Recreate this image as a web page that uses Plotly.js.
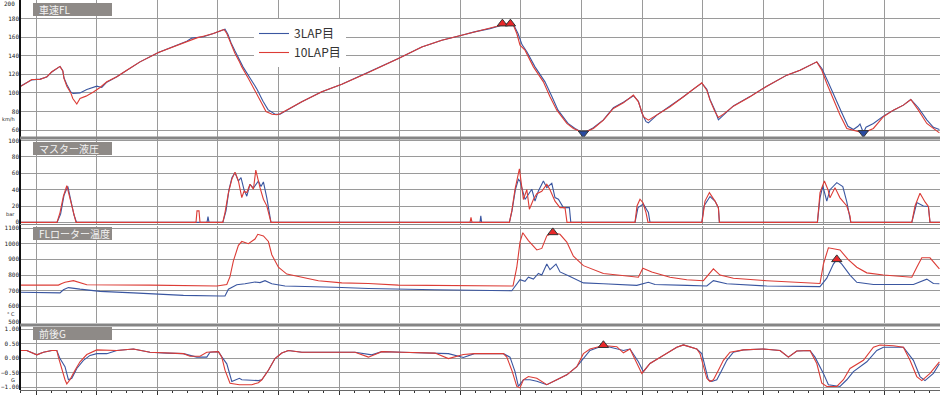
<!DOCTYPE html>
<html><head><meta charset="utf-8">
<script src="https://cdn.plot.ly/plotly-3.0.1.min.js"></script>
<style>html,body{margin:0;padding:0;background:#fff}#chart{width:940px;height:398px}</style>
</head><body><div id="chart"></div>
<script>
const lapNames = ["3LAP目", "10LAP目"];
const panelTitles = ["車速FL", "マスター液圧", "FLローター温度", "前後G"];
const unitLabels = ["km/h", "bar", "° C", "G"];

// 車速FL (km/h) vs distance (m)
const speedDist3 = [4,59,100,134,159,192,200,214,220,234,254,265,300,334,384,409,434,484,534,600,692,767,834,859,917,967,1009,1025,1040,1055,1075,1097,1115,1150,1185,1215,1240,1275,1300,1409,1509,1609,1742,1892,2009,2109,2209,2272,2350,2425,2465,2490,2510,2535,2575,2625,2660,2690,2740,2775,2817,2867,2917,2967,3017,3067,3092,3110,3130,3142,3184,3250,3317,3367,3409,3434,3450,3475,3492,3517,3567,3650,3734,3834,3900,3984,4010,4040,4075,4110,4140,4167,4190,4200,4217,4230,4267,4317,4367,4417,4454,4492,4534,4567,4597];
const speed3 = [107.5,114,114.8,117,122.5,128,128.5,124,116,109,101,99.5,100,103.7,107.2,105.8,111.5,117.3,124.4,133.4,143.4,149.5,155.5,159,160.5,164,167.5,168.5,163,154,145,136,128,116,104,91,82,77,77,90.4,101.1,109.4,122,137,149.5,156.7,162.1,165.7,169.2,173.9,174.5,164,152,144,128,111.9,95.8,81.4,67.1,61.7,56.5,62.5,71,84,90,97,91,78,69,67.8,76,85.5,95.8,104,110.5,104,93,81,71,76,86,96,107.2,119.1,124.4,133.4,126,112,94,78,64,60.5,64,66.5,57,63,67,75,81.4,86.8,92.9,84,71,63,60.6];
const speedDist10 = [4,59,100,134,159,192,200,214,220,234,254,264,284,300,330,367,400,434,484,534,600,692,767,834,884,917,967,1009,1020,1034,1050,1067,1075,1097,1109,1142,1175,1209,1230,1260,1285,1300,1409,1509,1609,1742,1892,2009,2109,2209,2272,2350,2425,2464,2484,2500,2525,2567,2617,2650,2684,2734,2767,2817,2867,2917,2967,3017,3067,3092,3117,3142,3184,3250,3317,3367,3409,3434,3450,3475,3492,3517,3567,3650,3734,3834,3900,3984,4009,4034,4067,4100,4134,4167,4217,4267,4317,4367,4417,4454,4492,4534,4567,4597];
const speed10 = [107,114.4,114.4,117.3,122.7,128,128.5,123.7,115.5,107.2,100,94,88,94,96.5,101,105.8,111.9,117.3,124.4,133.4,143.4,149.5,154.9,159.2,161,163.9,167.5,168.2,163.9,154.9,146,142.4,133.4,128,115.5,103,88.6,80,77,76.5,77.5,90.4,101.1,109.4,121.9,137,149.5,156.7,162.1,165.7,169.2,173.9,174.5,163.9,151.3,146,128,111.9,95.8,81.4,67.1,61.7,57,61.7,70.7,83.2,89.3,97.6,90.4,74.3,70.7,76.1,85,95.8,103.7,110.8,102.9,92.2,79.6,73.5,77.1,85.7,95.8,107.2,119.1,124.4,133.4,124.4,110.1,92.2,76.1,61.7,59.9,57,61.7,74.3,81.4,86.8,92.9,81.4,67.1,61.7,57];

// マスター液圧 (bar)
const presDist3 = [0,185,203,220,239,255,270,283,935,940,945,1014,1030,1045,1060,1075,1092,1105,1120,1134,1150,1167,1192,1205,1217,1234,1245,1255,2300,2304,2308,2447,2460,2477,2492,2500,2525,2559,2575,2592,2617,2634,2659,2675,2692,2717,2747,2754,3075,3090,3117,3142,3150,3409,3420,3450,3475,3492,3497,3987,4000,4014,4034,4050,4084,4114,4134,4154,4459,4484,4517,4542,4550,4600];
const pres3 = [0,0,10,33,44,27,9,0,0,7,0,0,14,40,55,60.7,50.6,54.7,40,32,46.6,42,50.6,44,49.4,30,16,0,0,8,0,0,14,40,52.6,50.6,28,40.5,26,38.5,50.6,42.5,47.8,30.4,28.3,18,18,0,0,18,22.3,12,0,0,20,31.6,26,18,0,0,30,44.5,26,40,48.6,43.7,25,0,0,24.3,20,19.4,0,0];
const presDist10 = [0,185,200,217,234,250,267,280,880,885,895,900,1014,1025,1042,1059,1075,1092,1109,1120,1134,1150,1167,1179,1200,1217,1234,1245,1255,2250,2255,2260,2447,2459,2475,2497,2517,2534,2547,2567,2584,2609,2634,2650,2675,2700,2725,2735,3075,3085,3100,3115,3130,3140,3410,3425,3447,3475,3492,3497,3987,4000,4022,4040,4050,4075,4100,4134,4150,4154,4459,4475,4500,4525,4542,4550,4600];
const pres10 = [0,0,12,32,45,28,10,0,0,14,14,0,0,12,36,52.6,61.5,50.6,30.4,38,36.4,46.6,40.5,64,42.5,28.3,20.2,8,0,0,6,0,0,14,40.5,65.6,28,40,16,28,35,38,46.6,40,26,18,18,0,0,20,28.3,24,12,0,0,26,36.4,26,18,0,0,36.4,50.6,40,30,42.5,30,20,8,0,0,20,35.6,25,19.4,0,0];

// FLローター温度 (°C)
const tempDist3 = [4,200,217,242,300,400,567,700,817,1000,1025,1042,1084,1125,1175,1200,1225,1259,1325,1575,1742,2075,2272,2459,2500,2525,2542,2567,2592,2609,2634,2650,2680,2700,2750,2817,2917,3084,3142,3175,3334,3434,3467,3534,3734,4000,4034,4067,4084,4109,4150,4184,4267,4467,4534,4567,4597];
const temp3 = [690,686,706,720,710,696,686,676,670,666,666,710,738,744,756,752,764,744,730,722,714,706,702,700,770,760,786,774,810,800,870,834,870,820,790,750,744,734,754,740,734,730,764,744,730,726,780,870,900,870,800,754,740,740,774,746,744];
const tempDist10 = [4,192,209,225,267,334,650,900,984,1034,1050,1067,1084,1092,1109,1142,1175,1189,1217,1242,1259,1292,1334,1409,1492,1609,1742,1892,2075,2272,2465,2484,2500,2514,2542,2584,2609,2634,2664,2700,2734,2767,2817,2917,3017,3092,3114,3159,3250,3334,3417,3467,3500,3567,3734,3900,4000,4017,4042,4100,4140,4184,4234,4317,4400,4459,4484,4509,4550,4597];
const temp10 = [736,736,746,754,764,738,736,734,730,740,790,890,960,990,1014,1000,1030,1060,1050,1014,930,850,806,786,764,750,746,736,734,730,730,850,1010,1070,1020,960,970,1050,1070,1060,1010,920,860,810,794,786,844,820,786,770,764,840,800,780,764,754,746,870,974,960,900,850,814,800,790,786,850,910,910,840];

// 前後G
const gDist3 = [4,34,84,117,159,184,200,225,242,259,284,317,350,384,434,467,484,567,650,734,817,884,934,950,992,1010,1034,1059,1097,1109,1192,1209,1242,1275,1309,1342,1409,1575,1675,1759,1809,1909,2075,2142,2217,2272,2417,2450,2475,2492,2517,2550,2584,2634,2684,2734,2784,2817,2850,2917,2984,3017,3050,3092,3117,3150,3217,3284,3317,3384,3409,3425,3442,3459,3484,3509,3534,3567,3617,3717,3800,3842,3884,3950,3975,4017,4042,4100,4134,4167,4234,4284,4317,4417,4467,4500,4525,4567,4597];
const g3 = [0.26,0.26,0.11,0.2,0.26,0.26,-0.02,-0.3,-0.75,-0.7,-0.36,-0.08,0.09,0.15,0.15,0.22,0.26,0.31,0.2,0.17,0.15,0.03,0.03,0.2,0.22,0.03,-0.2,-0.81,-0.7,-0.75,-0.78,-0.75,-0.42,-0.02,0.17,0.26,0.2,0.2,0.2,0.11,0.22,0.2,0.17,0.15,0.02,0.15,0.15,0.03,-0.47,-0.98,-0.75,-0.75,-0.8,-0.92,-0.75,-0.58,-0.3,-0.02,0.26,0.43,0.31,0.26,0.31,-0.13,-0.47,-0.19,0.09,0.37,0.45,0.31,0.15,-0.3,-0.75,-0.81,-0.75,-0.42,-0.08,0.2,0.28,0.31,0.26,0.03,0.24,0.26,0.03,-0.53,-0.92,-0.98,-0.75,-0.47,-0.13,0.26,0.37,0.37,-0.08,-0.64,-0.78,-0.53,-0.2];
const gDist10 = [4,34,84,117,159,184,192,209,225,234,250,275,300,334,384,484,567,650,734,817,850,900,934,992,1009,1025,1050,1097,1159,1192,1209,1242,1275,1309,1342,1409,1575,1675,1742,1809,1909,2075,2142,2217,2272,2417,2434,2459,2484,2500,2517,2542,2584,2634,2684,2734,2784,2817,2850,2917,2984,3017,3050,3084,3109,3150,3217,3284,3317,3384,3400,3417,3434,3450,3467,3492,3517,3550,3617,3717,3800,3842,3884,3950,3984,4009,4034,4084,4117,4150,4217,4267,4300,4367,4417,4450,4484,4509,4550,4597];
const g10 = [0.26,0.26,0.11,0.2,0.26,0.26,0.03,-0.42,-0.75,-0.89,-0.75,-0.42,-0.13,0.12,0.28,0.26,0.31,0.2,0.17,0.15,0.06,0.06,0.2,0.22,0.03,-0.42,-0.87,-0.92,-0.92,-0.85,-0.75,-0.42,-0.02,0.17,0.26,0.2,0.2,0.2,0.03,0.22,0.2,0.17,-0.02,0.12,0.15,0.15,0.03,-0.42,-0.98,-1.03,-0.75,-0.64,-0.7,-0.92,-0.75,-0.58,-0.3,0.15,0.31,0.43,0.39,0.18,0.31,-0.19,-0.53,-0.19,0.09,0.37,0.45,0.31,0.15,-0.3,-0.7,-0.81,-0.75,-0.42,-0.08,0.2,0.28,0.31,0.26,0.03,0.24,0.26,-0.19,-0.87,-0.98,-0.98,-0.75,-0.36,-0.08,0.37,0.45,0.42,0.37,-0.08,-0.64,-0.78,-0.53,-0.13];

// peak / minimum markers
const speedMaxDist = [2412, 2452], speedMax = [174.5, 174.5];
const speedMinDist = [2817, 4217], speedMin = [56.5, 57];
const tempMaxDist = [2664, 4084], tempMax = [1072, 900];
const gMaxDist = [2917], gMax = [0.44];

// tick labels
const speedTicks = [60,80,100,120,140,160,180];
const presTicks = [0,20,40,60,80,100];
const tempTicks = [500,600,700,800,900,1000,1100];
const gTicks = [-1,-0.5,0,0.5,1];

const C3 = '#3a56a0', C10 = '#dc3c36';
const GRID = '#9a9a9a';
function line(x, y, ya, color, name, show) {
  return {type:'scatter', mode:'lines', x:x, y:y, yaxis:ya, name:name, showlegend:show,
          line:{color:color, width:1.1}, hoverinfo:'skip'};
}
function mk(x, y, ya, sym, fill) {
  return {type:'scatter', mode:'markers', x:x, y:y, yaxis:ya, showlegend:false, hoverinfo:'skip',
          marker:{symbol:sym, size:9, color:fill, line:{color:'#333', width:1}}};
}
const traces = [
  line(speedDist3, speed3, 'y', C3, lapNames[0], true),
  line(speedDist10, speed10, 'y', C10, lapNames[1], true),
  line(presDist3, pres3, 'y2', C3, lapNames[0], false),
  line(presDist10, pres10, 'y2', C10, lapNames[1], false),
  line(tempDist3, temp3, 'y3', C3, lapNames[0], false),
  line(tempDist10, temp10, 'y3', C10, lapNames[1], false),
  line(gDist3, g3, 'y4', C3, lapNames[0], false),
  line(gDist10, g10, 'y4', C10, lapNames[1], false),
  mk(speedMaxDist, speedMax, 'y', 'triangle-up', '#e8282a'),
  mk(speedMinDist, speedMin, 'y', 'triangle-down', '#2a4aa0'),
  mk(tempMaxDist, tempMax, 'y3', 'triangle-up', '#e8282a'),
  mk(gMaxDist, gMax, 'y4', 'triangle-up', '#e8282a')
];

const H = 390; // plot area height in px (margin t=0)
const fy = p => (H - p) / H;
const tickFont = {family:'DejaVu Sans Mono', size:6, color:'#222'};
function yax(domainPx, range, tickvals, fmt) {
  return {domain:[fy(domainPx[1]), fy(domainPx[0])], range:range, tickvals:tickvals,
          tickformat:fmt || '', showgrid:true, gridcolor:GRID, gridwidth:1, zeroline:false,
          showline:false, ticks:'', tickfont:tickFont, anchor:'x', fixedrange:true};
}
const layout = {
  width:940, height:398, margin:{l:20, r:0, t:0, b:8},
  paper_bgcolor:'#fff', plot_bgcolor:'#fff',
  font:{family:'Noto Sans CJK JP', color:'#333'},
  xaxis:{range:[0,4600], tick0:80, dtick:303, showgrid:true, gridcolor:GRID, gridwidth:1,
         showticklabels:false, zeroline:false, anchor:'y4', showline:true, linecolor:'#666', linewidth:1,
         ticks:'outside', ticklen:4, tickcolor:'#333',
         minor:{tick0:80, dtick:75.75, ticks:'outside', ticklen:2, tickcolor:'#333', showgrid:false}},
  yaxis: yax([0,137], [52.5,200], speedTicks),
  yaxis2: yax([139,224], [-2,102], presTicks),
  yaxis3: yax([226,323], [494,1113], tempTicks),
  yaxis4: yax([327,390], [-1.103,1.069], gTicks, '.2f'),
  showlegend:true,
  legend:{x:(254-20)/920, y:fy(19), xanchor:'left', yanchor:'top', bgcolor:'#fff',
          font:{size:12, color:'#333', family:'Noto Sans CJK JP'}, itemwidth:30, tracegroupgap:0},
  shapes:[], annotations:[]
};
// top tick label of the speed axis (200) sits on the upper edge
layout.annotations.push({xref:'paper', yref:'paper', x:-3/920, y:fy(4), xanchor:'right', yanchor:'middle',
  text:'200', showarrow:false, font:tickFont});
// left axis line and panel separators
layout.shapes.push({type:'line', xref:'paper', yref:'paper', x0:0, x1:0, y0:0, y1:1, line:{color:'#111', width:2}});
[138, 325].forEach(p => layout.shapes.push({type:'line', xref:'paper', yref:'paper', x0:0, x1:1, y0:fy(p), y1:fy(p), line:{color:'#858585', width:3}}));
layout.shapes.push({type:'line', xref:'paper', yref:'paper', x0:0, x1:1, y0:fy(224.5), y1:fy(224.5), line:{color:'#8a8a8a', width:1}});
// panel title boxes
const boxTops = [3, 142, 227, 327];
boxTops.forEach((t, i) => {
  layout.shapes.push({type:'rect', xref:'paper', yref:'paper', x0:(33-20)/920, x1:(112-20)/920,
    y0:fy(t+13), y1:fy(t), fillcolor:'#8e8a87', line:{width:0}});
  layout.annotations.push({xref:'paper', yref:'paper', x:(37-20)/920, y:fy(t+6.5), xanchor:'left', yanchor:'middle',
    text:panelTitles[i], showarrow:false, font:{size:10, color:'#f4f4f4', family:'Noto Sans CJK JP'}});
});
// unit labels
const unitY = [119, 214, 314, 380];
unitY.forEach((p, i) => layout.annotations.push({xref:'paper', yref:'paper', x:-3/920, y:fy(p), xanchor:'right', yanchor:'middle',
  text:unitLabels[i], showarrow:false, font:{size:5, color:'#222', family:'DejaVu Sans'}}));

Plotly.newPlot('chart', traces, layout, {staticPlot:true, displayModeBar:false});
</script></body></html>
